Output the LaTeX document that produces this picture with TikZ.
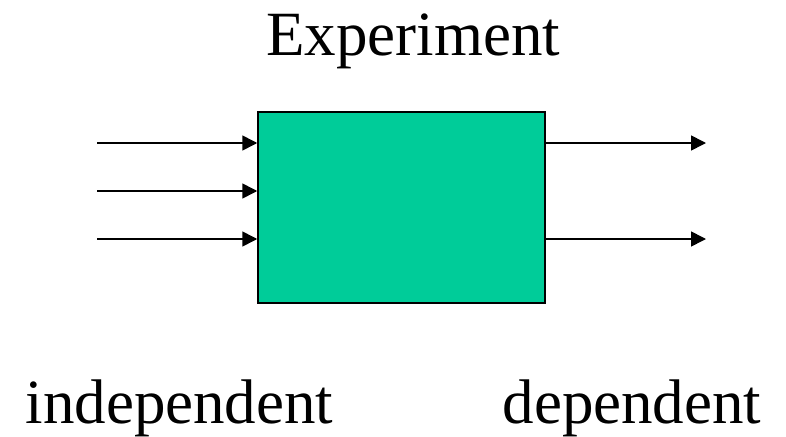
\documentclass[tikz,border=0pt]{standalone}
\usepackage{fontspec}
\setmainfont{Liberation Serif}
\usetikzlibrary{positioning,arrows.meta}

\definecolor{boxgreen}{RGB}{0,204,153}

\begin{document}
\begin{tikzpicture}[
    x=1pt, y=-1pt,
    >={Triangle[length=15pt,width=15pt]},
    every node/.style={font=\fontsize{63}{70}\selectfont},
    expbox/.style={draw, line width=1.5pt, fill=boxgreen, minimum width=287pt,
                   minimum height=191pt, inner sep=0pt},
    flow/.style ={->, line width=1.6pt},
]
\useasboundingbox (0,0) rectangle (786,436);

\node[expbox]                       (box)   at (401.5,207.5) {};
\node[anchor=base]                  (title) at (413,56)  {Experiment};
\node[anchor=base west]             (indep) at (22,423)  {independent};
\node[anchor=base west]             (dep)   at (499,423) {dependent};

% free ends of the arrows
\coordinate (in1)  at (97,143);
\coordinate (in2)  at (97,191);
\coordinate (in3)  at (97,239);
\coordinate (out1) at (706,143);
\coordinate (out2) at (706,239);

\draw[flow] (in1) -- (in1 -| box.west);
\draw[flow] (in2) -- (in2 -| box.west);
\draw[flow] (in3) -- (in3 -| box.west);
\draw[flow] (out1 -| box.east) -- (out1);
\draw[flow] (out2 -| box.east) -- (out2);

\end{tikzpicture}
\end{document}
